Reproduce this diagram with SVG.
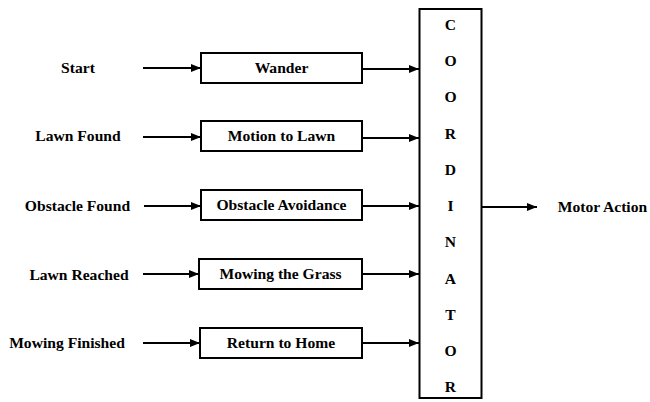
<svg xmlns="http://www.w3.org/2000/svg" width="650" height="402" viewBox="0 0 650 402">
<defs>
<marker id="ah" viewBox="0 0 10 8" refX="10" refY="4" markerWidth="10" markerHeight="8" markerUnits="userSpaceOnUse" orient="auto">
<path d="M0,0 L10,4 L0,8 Z" fill="#000"/>
</marker>
<style>
.t{font-family:"Liberation Serif","Times New Roman","DejaVu Serif",serif;font-weight:bold;font-size:15.6px;fill:#000;text-anchor:middle}
.b{fill:#fff;stroke:#000;stroke-width:2}
.c{stroke:#000;stroke-width:2;fill:none;marker-end:url(#ah)}
</style>
</defs>
<rect width="650" height="402" fill="#fff"/>
<g id="labels">
<text class="t" x="78" y="73">Start</text>
<text class="t" x="78" y="141">Lawn Found</text>
<text class="t" x="77.5" y="211">Obstacle Found</text>
<text class="t" x="79" y="280">Lawn Reached</text>
<text class="t" x="67" y="348">Mowing Finished</text>
<text class="t" x="602.5" y="212">Motor Action</text>
</g>
<g id="wander"><rect class="b" x="201" y="53" width="161" height="30"/><text class="t" x="281.5" y="73">Wander</text></g>
<g id="motion"><rect class="b" x="201" y="121" width="161" height="30"/><text class="t" x="281.5" y="141">Motion to Lawn</text></g>
<g id="obstacle"><rect class="b" x="201" y="190" width="161" height="30"/><text class="t" x="281.5" y="210">Obstacle Avoidance</text></g>
<g id="mowing"><rect class="b" x="199" y="259" width="163" height="30"/><text class="t" x="280.5" y="279">Mowing the Grass</text></g>
<g id="return"><rect class="b" x="200" y="328" width="162" height="30"/><text class="t" x="281" y="348">Return to Home</text></g>
<g id="coordinator">
<rect class="b" x="419.5" y="9" width="62" height="389"/>
<text class="t" x="450.5" y="30">C</text>
<text class="t" x="450.5" y="66">O</text>
<text class="t" x="450.5" y="102">O</text>
<text class="t" x="450.5" y="139">R</text>
<text class="t" x="450.5" y="175">D</text>
<text class="t" x="450.5" y="211">I</text>
<text class="t" x="450.5" y="247">N</text>
<text class="t" x="450.5" y="284">A</text>
<text class="t" x="450.5" y="320">T</text>
<text class="t" x="450.5" y="356">O</text>
<text class="t" x="450.5" y="392">R</text>
</g>
<g id="connectors">
<line class="c" x1="143" y1="68" x2="201" y2="68"/>
<line class="c" x1="143" y1="137" x2="201" y2="137"/>
<line class="c" x1="144" y1="206" x2="201" y2="206"/>
<line class="c" x1="143" y1="274" x2="199" y2="274"/>
<line class="c" x1="143" y1="343" x2="200" y2="343"/>
<line class="c" x1="362" y1="69" x2="419" y2="69"/>
<line class="c" x1="362" y1="138" x2="419" y2="138"/>
<line class="c" x1="362" y1="206" x2="419" y2="206"/>
<line class="c" x1="362" y1="274" x2="419" y2="274"/>
<line class="c" x1="362" y1="343" x2="419" y2="343"/>
<line class="c" x1="482" y1="207" x2="537" y2="207"/>
</g>
</svg>
